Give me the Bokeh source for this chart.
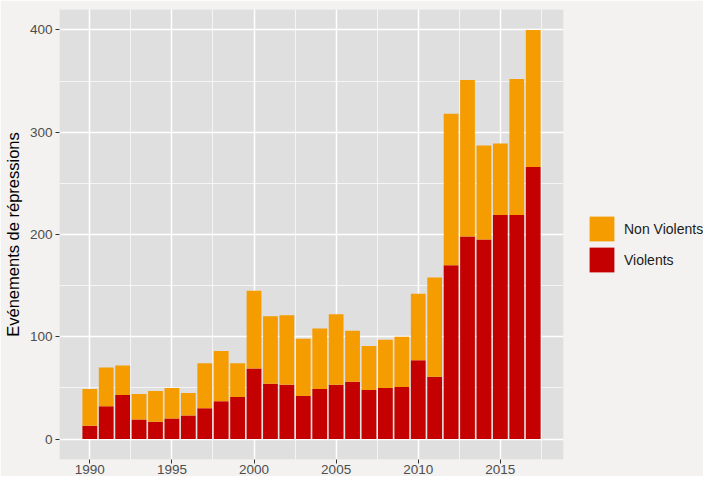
from bokeh.plotting import figure
from bokeh.models import (ColumnDataSource, Range1d, SingleIntervalTicker, Legend, LegendItem)
from bokeh.embed import file_html
from bokeh.resources import INLINE

years = list(range(1990, 2018))
violents = [13, 32, 43, 19, 17, 20, 23, 30, 37, 41, 69, 54, 53, 42, 49, 53, 56, 48, 50, 51, 77, 61, 170, 198, 195, 219, 219, 266]
non_violents = [36, 38, 29, 25, 30, 30, 22, 44, 49, 33, 76, 66, 68, 56, 59, 69, 50, 43, 47, 49, 65, 97, 148, 153, 92, 70, 133, 134]
series = ["violents", "non_violents"]
labels = {"violents": "Violents", "non_violents": "Non Violents"}
colors = {"violents": "#C40000", "non_violents": "#F59D00"}
y_title = "Evénements de répressions"

BG = "#F3F2F0"
PANEL = "#E0DFDF"
FONT = "Liberation Sans"

source = ColumnDataSource(dict(year=years, violents=violents, non_violents=non_violents))

p = figure(frame_width=504, frame_height=450, output_backend="svg", toolbar_location=None,
           x_range=Range1d(1988.155, 2018.845), y_range=Range1d(-20, 420),
           min_border_left=51, min_border_top=9, min_border_bottom=0, min_border_right=0)
p.background_fill_color = PANEL
p.border_fill_color = BG
p.outline_line_color = None

renderers = p.vbar_stack(series, x="year", width=0.9, source=source,
                         color=[colors[s] for s in series], line_width=0)

for ax, interval in ((p.xaxis[0], 5), (p.yaxis[0], 100)):
    ax.ticker = SingleIntervalTicker(interval=interval, num_minor_ticks=2)
    ax.axis_line_color = None
    ax.major_tick_in = 0
    ax.major_tick_out = 4
    ax.major_tick_line_color = "#333333"
    ax.major_tick_line_width = 1
    ax.minor_tick_line_color = None
    ax.major_label_text_font = FONT
    ax.major_label_text_font_size = "13.5px"
    ax.major_label_text_color = "#4D4D4D"
    ax.major_label_standoff = 3
p.xaxis[0].major_label_standoff = 1

p.yaxis.axis_label = y_title
p.yaxis.axis_label_text_font = FONT
p.yaxis.axis_label_text_font_size = "16.5px"
p.yaxis.axis_label_text_font_style = "normal"
p.yaxis.axis_label_text_color = "#000000"
p.yaxis.axis_label_standoff = 5

for g in (p.xgrid[0], p.ygrid[0]):
    g.grid_line_color = "white"
    g.grid_line_width = 1.5
    g.minor_grid_line_color = "white"
    g.minor_grid_line_width = 0.7

items = [LegendItem(label=labels["non_violents"], renderers=[renderers[1]]),
         LegendItem(label=labels["violents"], renderers=[renderers[0]])]
legend = Legend(items=items, location=(23, 184), orientation="vertical",
                glyph_width=31, glyph_height=31, label_height=31, spacing=-4,
                label_standoff=7, padding=0, margin=0,
                border_line_color=None, background_fill_color=None,
                label_text_font=FONT, label_text_font_size="14px", label_text_color="#1A1A1A")
p.add_layout(legend, "right")

open("out.html", "w").write(file_html(p, INLINE))
